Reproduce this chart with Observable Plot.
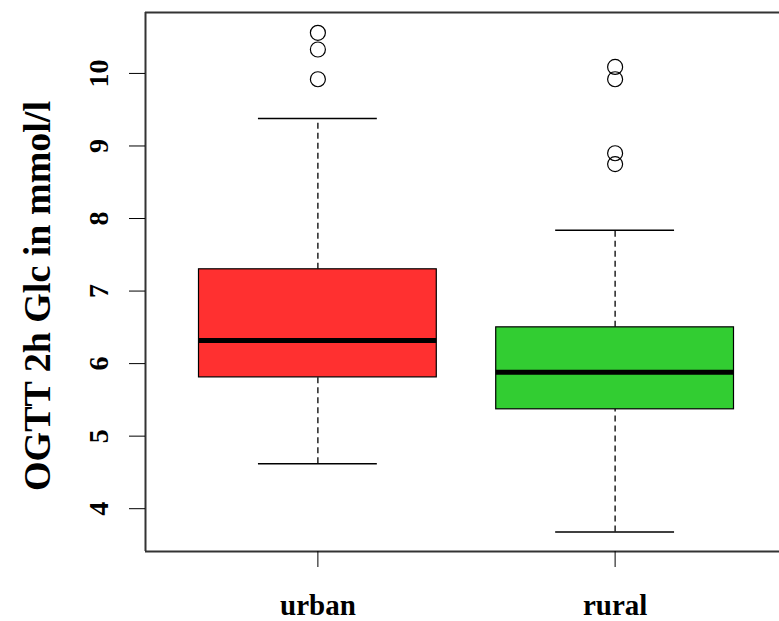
<!DOCTYPE html>
<html>
<head>
<meta charset="utf-8">
<script src="https://cdn.jsdelivr.net/npm/d3@7"></script>
<script src="https://cdn.jsdelivr.net/npm/@observablehq/plot@0.6"></script>
<style>
  html, body { margin: 0; padding: 0; background: #fff; overflow: hidden; }
</style>
</head>
<body>
<div id="chart"></div>
<script>
// Categories and box statistics
const groups = ["urban", "rural"];
const positions = [1, 2];
const fills = ["#FF3030", "#32CD32"];
const lowerWhisker = [4.62, 3.68];
const q1 = [5.81, 5.37];
const median = [6.32, 5.88];
const q3 = [7.30, 6.50];
const upperWhisker = [9.38, 7.84];
const outlierGroup = ["urban", "urban", "urban", "rural", "rural", "rural", "rural"];
const outlierValue = [10.56, 10.33, 9.92, 10.09, 9.92, 8.90, 8.75];
const yTicks = [4, 5, 6, 7, 8, 9, 10];
const yLabel = "OGTT 2h Glc in mmol/l";

const boxes = groups.map((g, i) => ({
  group: g, pos: positions[i], fill: fills[i],
  lo: lowerWhisker[i], q1: q1[i], med: median[i], q3: q3[i], hi: upperWhisker[i]
}));
const outliers = outlierGroup.map((g, i) => ({pos: positions[groups.indexOf(g)], value: outlierValue[i]}));

const halfBox = 0.4, halfStaple = 0.2;
const yDomain = [3.41, 10.84];
const xDomain = [0.42, 2.58];
const font = "'Liberation Serif', 'Times New Roman', serif";

const chart = Plot.plot({
  width: 779,
  height: 621,
  marginTop: 12,
  marginBottom: 70,
  marginLeft: 145,
  marginRight: 0,
  style: {fontFamily: font, background: "#fff"},
  x: {type: "linear", domain: xDomain, range: [145, 787]},
  y: {domain: yDomain},
  marks: [
    // whiskers (dashed)
    Plot.ruleX(boxes, {x: "pos", y1: "q3", y2: "hi", stroke: "#000", strokeWidth: 1.3, strokeDasharray: "6,4"}),
    Plot.ruleX(boxes, {x: "pos", y1: "lo", y2: "q1", stroke: "#000", strokeWidth: 1.3, strokeDasharray: "6,4"}),
    // staples
    Plot.ruleY(boxes, {y: "hi", x1: d => d.pos - halfStaple, x2: d => d.pos + halfStaple, stroke: "#000", strokeWidth: 1.5}),
    Plot.ruleY(boxes, {y: "lo", x1: d => d.pos - halfStaple, x2: d => d.pos + halfStaple, stroke: "#000", strokeWidth: 1.5}),
    // boxes
    Plot.rect(boxes, {x1: d => d.pos - halfBox, x2: d => d.pos + halfBox, y1: "q1", y2: "q3", fill: "fill", stroke: "#000", strokeWidth: 1.2}),
    // medians
    Plot.ruleY(boxes, {y: "med", x1: d => d.pos - halfBox, x2: d => d.pos + halfBox, stroke: "#000", strokeWidth: 5}),
    // outliers
    Plot.dot(outliers, {x: "pos", y: "value", r: 7.5, stroke: "#000", strokeWidth: 1.2, fill: "none"}),
    // frame: top, bottom, left (right edge is off-image)
    Plot.ruleY([yDomain[0], yDomain[1]], {stroke: "#333", strokeWidth: 2}),
    Plot.ruleX([xDomain[0]], {stroke: "#333", strokeWidth: 2}),
    // y axis ticks
    Plot.axisY({ticks: yTicks, tickSize: 16, tickFormat: () => "", label: null, stroke: "#000"}),
    // y tick labels (rotated)
    Plot.text(yTicks, {y: d => d, text: d => String(d), frameAnchor: "left", dx: -46, rotate: -90,
      textAnchor: "middle", lineAnchor: "middle", fontSize: 28, fontWeight: "bold", fill: "#000"}),
    // x axis
    Plot.axisX({ticks: positions, tickSize: 16, tickFormat: d => groups[positions.indexOf(d)],
      tickPadding: 27, fontSize: 29, fontWeight: "bold", label: null, stroke: "#000", fill: "#000"}),
    // y axis title
    Plot.text([yLabel], {frameAnchor: "left", dx: -108, dy: 14, rotate: -90, textAnchor: "middle", lineAnchor: "middle",
      fontSize: 38, fontWeight: "bold", fill: "#000", text: d => d})
  ]
});
document.getElementById("chart").appendChild(chart);
</script>
</body>
</html>
